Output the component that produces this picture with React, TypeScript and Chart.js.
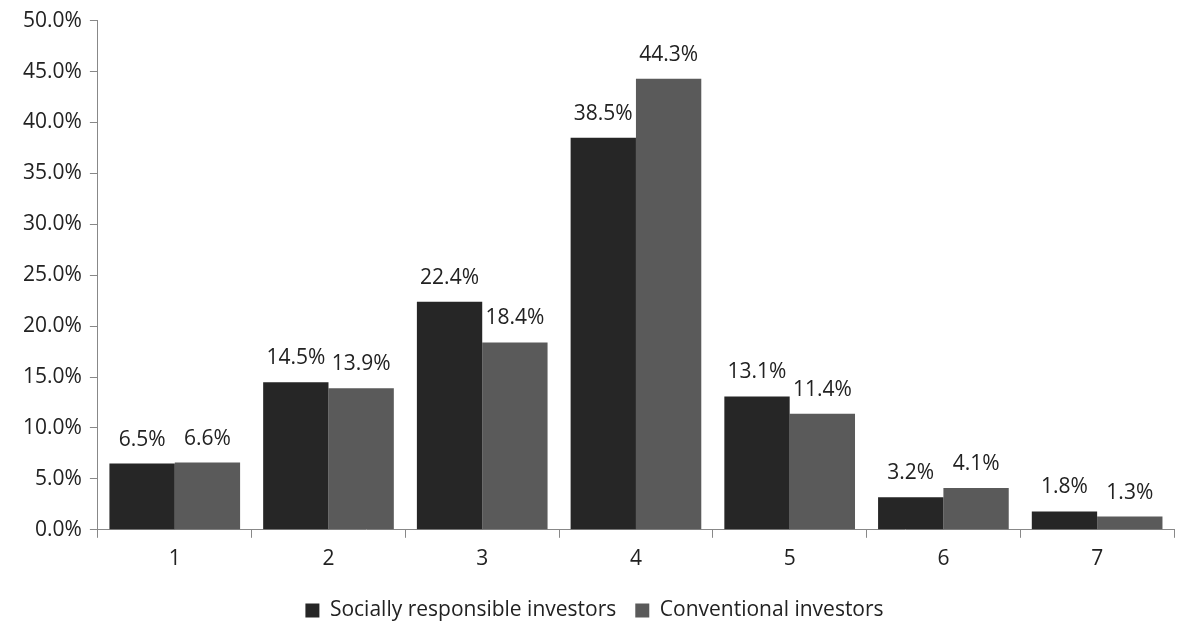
import React, { useEffect, useRef } from "react";
import { Chart, registerables } from "chart.js";

Chart.register(...registerables);

const categories = ["1", "2", "3", "4", "5", "6", "7"];
const sriValues = [6.5, 14.5, 22.4, 38.5, 13.1, 3.2, 1.8];
const convValues = [6.6, 13.9, 18.4, 44.3, 11.4, 4.1, 1.3];
const seriesNames = ["Socially responsible investors", "Conventional investors"];

const FONT = "'Open Sans', 'Noto Sans', sans-serif";
const FS = 21;

const dataLabelPlugin = {
  id: "dataLabels",
  afterDatasetsDraw(chart: any) {
    const ctx = chart.ctx;
    ctx.save();
    ctx.font = `${FS}px ${FONT}`;
    ctx.fillStyle = "#222";
    ctx.textAlign = "center";
    ctx.textBaseline = "alphabetic";
    chart.data.datasets.forEach((ds: any, i: number) => {
      const meta = chart.getDatasetMeta(i);
      meta.data.forEach((el: any, j: number) => {
        const v = ds.data[j] as number;
        ctx.fillText(v.toFixed(1) + "%", el.x, el.y - 18);
      });
    });
    ctx.restore();
  },
};

export default function App() {
  const ref = useRef<HTMLCanvasElement>(null);
  useEffect(() => {
    document.body.style.margin = "0";
    const chart = new Chart(ref.current!, {
      type: "bar",
      data: {
        labels: categories,
        datasets: [
          {
            label: seriesNames[0],
            data: sriValues,
            backgroundColor: "#262626",
            categoryPercentage: 0.85,
            barPercentage: 1,
          },
          {
            label: seriesNames[1],
            data: convValues,
            backgroundColor: "#5a5a5a",
            categoryPercentage: 0.85,
            barPercentage: 1,
          },
        ],
      },
      options: {
        responsive: false,
        animation: false,
        layout: { padding: { top: 8, right: 8, left: 15, bottom: 0 } },
        plugins: {
          tooltip: { enabled: false },
          legend: {
            position: "bottom",
            labels: {
              usePointStyle: true,
              pointStyle: "rect",
              boxWidth: 14,
              boxHeight: 14,
              padding: 19,
              color: "#222",
              font: { family: FONT, size: FS },
            },
          },
        },
        scales: {
          x: {
            grid: {
              drawOnChartArea: false,
              drawTicks: true,
              tickLength: 8,
              color: "#888",
            },
            border: { color: "#888" },
            ticks: { color: "#222", font: { family: FONT, size: FS }, padding: 9 },
          },
          y: {
            min: 0,
            max: 50,
            ticks: {
              stepSize: 5,
              color: "#222",
              font: { family: FONT, size: FS },
              padding: 8,
              callback: (v: any) => Number(v).toFixed(1) + "%",
            },
            grid: {
              drawOnChartArea: false,
              drawTicks: true,
              tickLength: 8,
              color: "#888",
            },
            border: { color: "#888" },
          },
        },
      },
      plugins: [dataLabelPlugin],
    });
    return () => chart.destroy();
  }, []);
  return (
    <div style={{ width: 1182, height: 631, background: "#fff" }}>
      <canvas ref={ref} width={1182} height={631} />
    </div>
  );
}
